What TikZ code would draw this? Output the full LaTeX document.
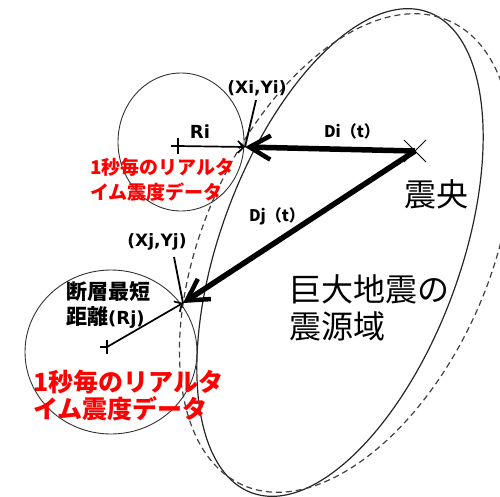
\documentclass[tikz,border=0pt]{standalone}
\usepackage{fontspec}
\usetikzlibrary{arrows.meta}
\newfontfamily\jpfont{Noto Sans CJK JP}
\newfontfamily\latfont{DejaVu Sans}
\begin{document}
\begin{tikzpicture}[x=1pt,y=-1pt,
  ring/.style={draw=black!80, line width=0.9pt},
  zone/.style={draw=black!85, line width=1.2pt},
  zonedash/.style={draw=black!75, line width=1.2pt, dash pattern=on 6pt off 4pt},
  bigarrow/.style={line width=5.5pt, -{Straight Barb[length=21pt,width=24pt,line width=4.5pt]}},
  thinarrow/.style={line width=1.7pt, -{Straight Barb[length=6pt,width=12pt,line width=1.7pt]}},
  leader/.style={line width=1.8pt},
  plusmark/.style={line width=1.4pt},
  latlbl/.style={font=\latfont\bfseries\fontsize{17}{20}\selectfont, inner sep=0, anchor=base},
  dlbl/.style={font=\jpfont\bfseries\fontsize{16}{18}\selectfont, inner sep=0, anchor=base},
  redbig/.style={font=\jpfont\bfseries\fontsize{25}{27}\selectfont, text=red, inner sep=0, anchor=base west},
  redsmall/.style={font=\jpfont\bfseries\fontsize{19}{21}\selectfont, text=red, inner sep=0, anchor=base west},
  bigtxt/.style={font=\jpfont\fontsize{32}{36}\selectfont, inner sep=0, anchor=base west},
  faulttxt/.style={font=\jpfont\bfseries\fontsize{21}{24}\selectfont, inner sep=0, anchor=base west}
]
\useasboundingbox (0,0) rectangle (500,496);
% source zone outlines
\draw[zone, rotate around={69.8:(340,252.5)}] (340,252.5) ellipse [x radius=256pt, y radius=120pt];
\draw[zonedash, rotate around={66:(346,253)}] (346,253) ellipse [x radius=254pt, y radius=143pt];
% key points
\coordinate (E) at (415,151);
\coordinate (Pi) at (245,147);
\coordinate (Pj) at (183,303);
\coordinate (Ci) at (178,146);
\coordinate (Cj) at (107,347);
\coordinate (Li) at (256,100);
\coordinate (Lj) at (174,257);
% station circles
\draw[ring] (181,142) ellipse [x radius=63pt, y radius=69pt];
\draw[ring] (111,352) ellipse [x radius=86pt, y radius=82pt];
% plus marks
\draw[plusmark] (Ci) ++(0,-8) -- ++(0,16);
\draw[plusmark] (Ci) ++(-7,0) -- ++(7,0);
\draw[plusmark] (Cj) ++(0,-7) -- ++(0,14);
\draw[plusmark] (Cj) ++(-7,0) -- ++(7,0);
% epicentre cross
\draw[line width=0.9pt] (E) ++(-11,-11) -- ++(22,22);
\draw[line width=0.9pt] (E) ++(-11,11) -- ++(22,-22);
% distance arrows
\draw[bigarrow] (E) -- (Pi);
\draw[bigarrow] (E) -- (Pj);
\draw[thinarrow] (Ci) -- (Pi);
\draw[thinarrow] (Cj) -- (Pj);
\draw[leader] (Li) -- (Pi);
\draw[leader] (Lj) -- (Pj);
% labels
\node[latlbl] (xiyi) at (257,93) {(Xi,Yi)};
\node[latlbl] (xjyj) at (157,246) {(Xj,Yj)};
\node[latlbl, font=\latfont\bfseries\fontsize{18}{20}\selectfont] (ri) at (200,138) {Ri};
\node[dlbl] (di) at (352,137) {Di（t）};
\node[dlbl] (dj) at (277,221) {Dj（t）};
\node[bigtxt] (epi) at (404,206) {震央};
\node[bigtxt] (zone1) at (289,301) {巨大地震の};
\node[bigtxt] (zone2) at (289,338) {震源域};
\node[faulttxt] (rj1) at (66,299) {断層最短};
\node[faulttxt] (rj2) at (66,324) {距離{\latfont\fontsize{18}{20}\selectfont(Rj)}};
\node[redsmall] (ri1) at (90,174) {1秒毎のリアルタ};
\node[redsmall] (ri2) at (90,199) {イム震度データ};
\node[redbig] (rj3) at (33,391) {1秒毎のリアルタ};
\node[redbig] (rj4) at (33,418) {イム震度データ};
\end{tikzpicture}
\end{document}
